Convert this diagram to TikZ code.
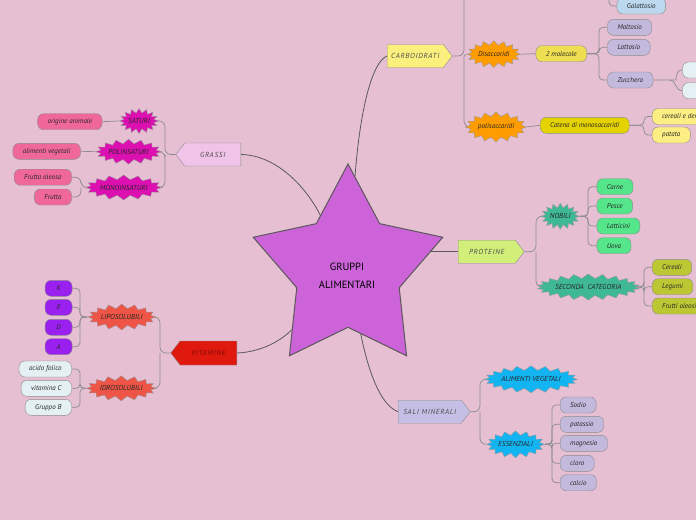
\documentclass[tikz,border=0pt]{standalone}
\usepackage{fontspec}
\setmainfont{PT Sans}
\usetikzlibrary{shapes.geometric,shapes.symbols}

\definecolor{bgpink}{HTML}{E6BFD3}
\definecolor{starC}{HTML}{CC63D9}
\definecolor{grassiC}{HTML}{F0C3E8}
\definecolor{magC}{HTML}{DC0FB0}
\definecolor{rosaC}{HTML}{F0689A}
\definecolor{carbC}{HTML}{FBF07E}
\definecolor{orangeC}{HTML}{FF9C00}
\definecolor{yelC}{HTML}{EEDE52}
\definecolor{lavC}{HTML}{C2B9DD}
\definecolor{azzC}{HTML}{BBD8EF}
\definecolor{goldC}{HTML}{E4D300}
\definecolor{paleyelC}{HTML}{FCEE82}
\definecolor{protC}{HTML}{D2EF7A}
\definecolor{tealC}{HTML}{3FB896}
\definecolor{greenC}{HTML}{55E58B}
\definecolor{oliveC}{HTML}{BCC733}
\definecolor{vitC}{HTML}{E0190E}
\definecolor{vittxt}{HTML}{7E0C08}
\definecolor{salmonC}{HTML}{EE5547}
\definecolor{purpleC}{HTML}{9A20EF}
\definecolor{iceC}{HTML}{E4F0F3}
\definecolor{saliC}{HTML}{C5BFE5}
\definecolor{blueC}{HTML}{12B5F2}

\pgfdeclarelayer{bg}
\pgfdeclarelayer{edges}
\pgfsetlayers{bg,edges,main}

\begin{document}
\begin{tikzpicture}[x=1pt, y=-1pt,
    every node/.style={align=center, text=black!85, font=\itshape\fontsize{7}{8}\selectfont},
    topic/.style={signal, signal from=nowhere, signal pointer angle=105, draw=black!45, minimum height=23pt, text=black!70, font=\itshape\fontsize{7.3}{8}\selectfont\addfontfeature{LetterSpace=10}},
    burst/.style={starburst, starburst points=16, starburst point height=4.5pt, random starburst=0, draw=black!40, inner sep=0pt, font=\itshape\fontsize{7.2}{8}\selectfont},
    leaf/.style={draw=black!45, rounded corners=6pt, minimum height=16pt, inner xsep=10pt, inner ysep=0pt},
    link/.style={draw=black!65, line width=0.8pt},
    fork/.style={draw=black!45, line width=0.7pt, rounded corners=6pt}]
    \useasboundingbox (0,0) rectangle (696,520);
    \clip (0,0) rectangle (696,520);
    \begin{pgfonlayer}{bg}
        \fill[bgpink] (0,0) rectangle (696,520);
    \end{pgfonlayer}

    % centre
    \node[star, star points=5, star point ratio=1.85, minimum size=212pt, inner sep=0pt, draw=black!65, line width=1pt, fill=starC, transform shape, xscale=0.94] (root) at (348,270) {};
    \node[font=\fontsize{10.5}{18}\selectfont, text=black] (rootTxt) at (347,276) {GRUPPI\\ALIMENTARI};

    % main topics
    \node[topic, signal to=west, fill=grassiC, minimum width=65pt, anchor=east] (grassi) at (241,154.5) {GRASSI};
    \node[topic, signal to=east, fill=carbC, minimum width=65pt, anchor=west] (carb) at (387,56) {CARBOIDRATI};
    \node[topic, signal to=east, fill=protC, minimum width=66pt, anchor=west] (prot) at (458,251.7) {PROTEINE};
    \node[topic, signal to=west, fill=vitC, text=vittxt, minimum width=66pt, minimum height=24pt, anchor=east] (vit) at (237,353) {VITAMINE};
    \node[topic, signal to=east, fill=saliC, minimum width=72pt, anchor=west] (sali) at (398,411.7) {SALI MINERALI};

    % grassi
    \node[burst, fill=magC, minimum width=35pt, minimum height=25pt] (saturi) at (139,121) {SATURI};
    \node[burst, fill=magC, minimum width=58pt, minimum height=25pt] (polins) at (128.5,151.7) {POLINSATURI};
    \node[burst, fill=magC, minimum width=66pt, minimum height=25pt] (monoins) at (123.7,187.5) {MONOINSATURI};
    \node[leaf, fill=rosaC, anchor=east] (origAn) at (102.3,121.7) {origine animale};
    \node[leaf, fill=rosaC, anchor=east] (vegGr) at (80.7,151.3) {alimenti vegetali};
    \node[leaf, fill=rosaC, anchor=east] (frOle) at (71.7,177.2) {Frutta oleosa};
    \node[leaf, fill=rosaC, anchor=east] (frutta) at (71.7,197) {Frutta};

    % vitamine
    \node[burst, fill=salmonC, minimum width=62pt, minimum height=26pt] (lipo) at (121.7,317) {LIPOSOLUBILI};
    \node[burst, fill=salmonC, minimum width=61pt, minimum height=25pt] (idro) at (121.2,388.3) {IDROSOLUBILI};
    \node[leaf, fill=purpleC, minimum width=27pt, anchor=east] (vK) at (72.3,288.3) {K};
    \node[leaf, fill=purpleC, minimum width=27pt, anchor=east] (vE) at (72.3,307.3) {E};
    \node[leaf, fill=purpleC, minimum width=27pt, anchor=east] (vD) at (72.3,327.3) {D};
    \node[leaf, fill=purpleC, minimum width=27pt, anchor=east] (vA) at (72.3,346.7) {A};
    \node[leaf, fill=iceC, anchor=east] (folico) at (71.7,369) {acido folico};
    \node[leaf, fill=iceC, anchor=east] (vitC) at (71.7,388.3) {vitamina C};
    \node[leaf, fill=iceC, anchor=east] (grB) at (71.7,407.3) {Gruppo B};

    % proteine
    \node[burst, fill=tealC, minimum width=34pt, minimum height=26pt] (nobili) at (560.3,216.3) {NOBILI};
    \node[burst, fill=tealC, starburst points=22, minimum width=90pt, minimum height=26pt] (seconda) at (588.3,287) {SECONDA\ \ CATEGORIA};
    \node[leaf, fill=greenC, anchor=west] (carne) at (596.7,186.7) {Carne};
    \node[leaf, fill=greenC, anchor=west] (pesce) at (596.7,206) {Pesce};
    \node[leaf, fill=greenC, anchor=west] (latt) at (596.7,226) {Latticini};
    \node[leaf, fill=greenC, anchor=west] (uova) at (596.7,245.7) {Uova};
    \node[leaf, fill=oliveC, anchor=west] (cereali) at (652,267.3) {Cereali};
    \node[leaf, fill=oliveC, anchor=west] (legumi) at (652,286.7) {Legumi};
    \node[leaf, fill=oliveC, anchor=west] (frOleosi) at (652,306) {Frutti oleosi};

    % sali minerali
    \node[burst, fill=blueC, starburst points=20, minimum width=83pt, minimum height=27pt] (vegSa) at (531,379.3) {ALIMENTI VEGETALI};
    \node[burst, fill=blueC, minimum width=52pt, minimum height=27pt] (essenz) at (515.5,444.3) {ESSENZIALI};
    \node[leaf, fill=lavC, anchor=west] (sodio) at (560,405) {Sodio};
    \node[leaf, fill=lavC, anchor=west] (potassio) at (560,424.3) {potassio};
    \node[leaf, fill=lavC, anchor=west] (magnesio) at (560,443.3) {magnesio};
    \node[leaf, fill=lavC, anchor=west] (cloro) at (560,463.3) {cloro};
    \node[leaf, fill=lavC, anchor=west] (calcio) at (560,482.7) {calcio};

    % carboidrati
    \node[burst, fill=orangeC, minimum width=46pt, minimum height=27pt] (disacc) at (493.8,54.2) {Disaccaridi};
    \node[burst, fill=orangeC, minimum width=52pt, minimum height=30pt] (polisacc) at (496,127) {polisaccaridi};
    \node[leaf, fill=yelC, anchor=west] (molecole) at (535.7,53.7) {2 molecole};
    \node[leaf, fill=lavC, anchor=west] (maltosio) at (607.3,27.3) {Maltosio};
    \node[leaf, fill=lavC, anchor=west] (lattosio) at (607.3,47.3) {Lattosio};
    \node[leaf, fill=lavC, anchor=west] (zucchero) at (607.3,80) {Zucchero};
    \node[leaf, fill=iceC, minimum width=40pt, anchor=west] (zucA) at (682.3,70) {};
    \node[leaf, fill=iceC, minimum width=40pt, anchor=west] (zucB) at (682.3,90.7) {};
    \node[leaf, fill=azzC, anchor=west] (galatt) at (616.7,6) {Galattosio};
    \node[leaf, fill=goldC, anchor=west] (catena) at (540,125.3) {Catena di monosaccaridi};
    \node[leaf, fill=paleyelC, anchor=west] (cerDe) at (652,116.5) {cereali e derivati};
    \node[leaf, fill=paleyelC, anchor=west] (patata) at (652,135) {patata};

    % fork points
    \coordinate (gF) at (165,154.5);
    \coordinate (mF) at (81,187.5);
    \coordinate (vF) at (160,353);
    \coordinate (lipF) at (80,317);
    \coordinate (idF) at (80,388.3);
    \coordinate (pF) at (536,251.7);
    \coordinate (nobF) at (588,216.3);
    \coordinate (secF) at (644,287);
    \coordinate (sF) at (480,411.7);
    \coordinate (essF) at (552,444.3);
    \coordinate (cF) at (464,56);
    \coordinate (monoTop) at (464,-30);
    \coordinate (molF) at (599,53.7);
    \coordinate (zF) at (670,80);
    \coordinate (catF) at (644,125.3);
    \coordinate (galTop) at (609,-30);

    \begin{pgfonlayer}{edges}
        % centre to topics
        \draw[link] (grassi.east) .. controls (275,155) and (305,185) .. (root);
        \draw[link] (carb.west) .. controls (372,62) and (360,110) .. (root);
        \draw[link] (prot.west) -- (prot.west -| root);
        \draw[link] (vit.east) .. controls (262,352) and (282,340) .. (root);
        \draw[link] (root) .. controls (368,370) and (380,405) .. (sali.west);

        % grassi
        \draw[fork] (grassi.west) -- (gF) |- (saturi.east);
        \draw[fork] (gF) |- (polins.east);
        \draw[fork] (gF) |- (monoins.east);
        \draw[fork] (saturi.west) -- (origAn.east);
        \draw[fork] (polins.west) -- (vegGr.east);
        \draw[fork] (monoins.west) -- (mF) |- (frOle.east);
        \draw[fork] (mF) |- (frutta.east);

        % vitamine
        \draw[fork] (vit.west) -- (vF) |- (lipo.east);
        \draw[fork] (vF) |- (idro.east);
        \foreach \v in {vK,vE,vD,vA}
            \draw[fork, rounded corners=4pt] (lipo.west) -- (lipF) |- (\v.east);
        \foreach \v in {folico,vitC,grB}
            \draw[fork, rounded corners=4pt] (idro.west) -- (idF) |- (\v.east);

        % proteine
        \draw[fork] (prot.east) -- (pF) |- (nobili.west);
        \draw[fork] (pF) |- (seconda.west);
        \foreach \v in {carne,pesce,latt,uova}
            \draw[fork, rounded corners=4pt] (nobili.east) -- (nobF) |- (\v.west);
        \foreach \v in {cereali,legumi,frOleosi}
            \draw[fork, rounded corners=4pt] (seconda.east) -- (secF) |- (\v.west);

        % sali minerali
        \draw[fork] (sali.east) -- (sF) |- (vegSa.west);
        \draw[fork] (sF) |- (essenz.west);
        \foreach \v in {sodio,potassio,magnesio,cloro,calcio}
            \draw[fork, rounded corners=4pt] (essenz.east) -- (essF) |- (\v.west);

        % carboidrati
        \draw[fork] (carb.east) -- (cF) -- (monoTop);
        \draw[fork] (cF) |- (polisacc.west);
        \draw[fork] (cF) -- (disacc.west);
        \draw[fork] (disacc.east) -- (molecole.west);
        \draw[fork] (polisacc.east) -- (catena.west);
        \foreach \v in {maltosio,lattosio,zucchero}
            \draw[fork, rounded corners=4pt] (molecole.east) -- (molF) |- (\v.west);
        \draw[fork] (zucchero.east) -- (zF) .. controls (676,80) and (675,70) .. (zucA.west);
        \draw[fork] (zF) .. controls (676,80) and (675,90.7) .. (zucB.west);
        \draw[fork, rounded corners=4pt] (galTop) |- (galatt.west);
        \foreach \v in {cerDe,patata}
            \draw[fork, rounded corners=4pt] (catena.east) -- (catF) |- (\v.west);
    \end{pgfonlayer}
\end{tikzpicture}
\end{document}
